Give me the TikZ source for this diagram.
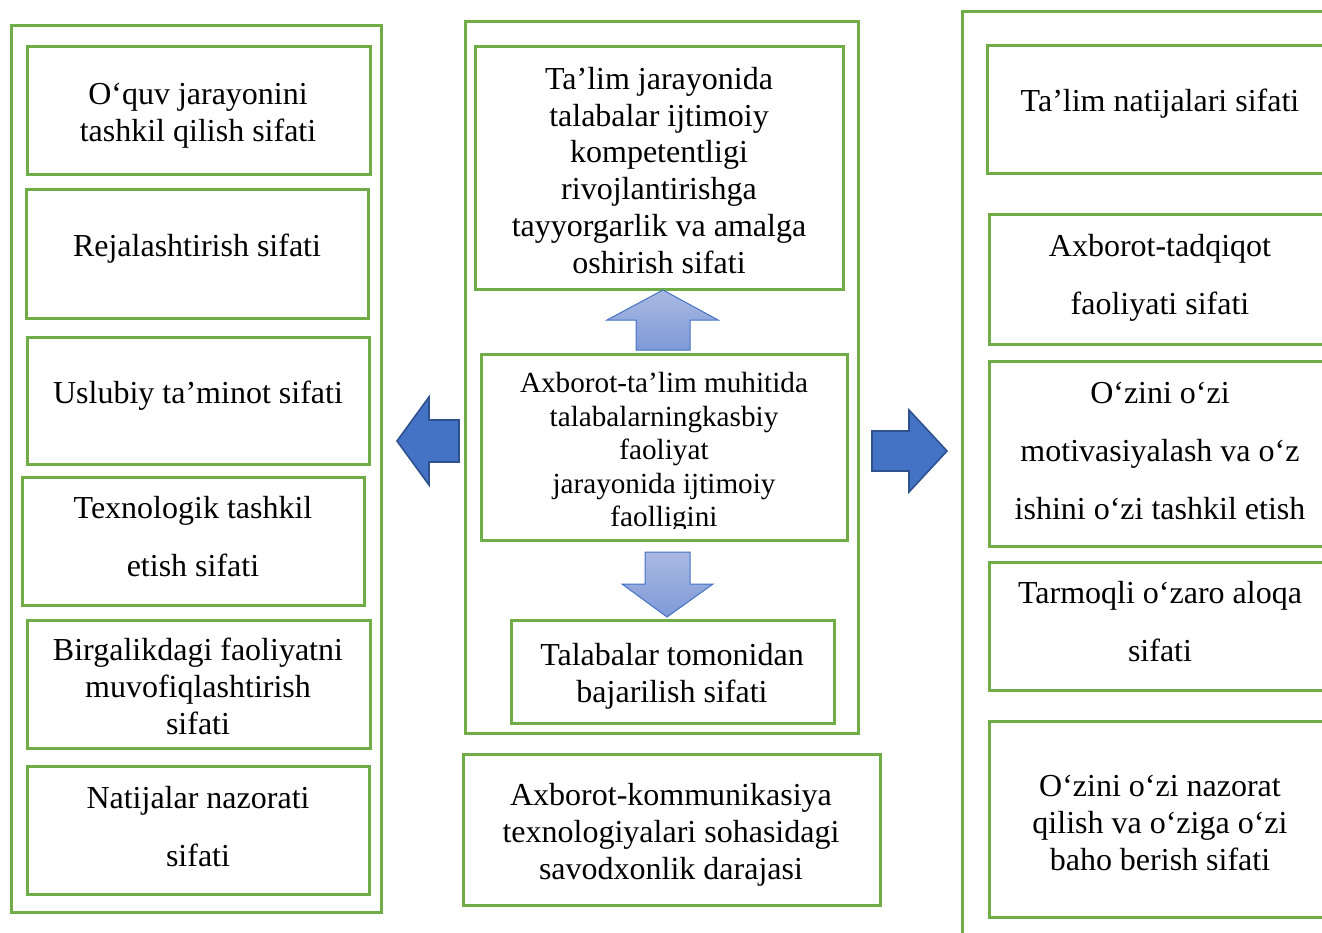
\documentclass[tikz,border=0pt]{standalone}
\usepackage{fontspec}
\setmainfont{Liberation Serif}
\definecolor{boxgreen}{HTML}{70AD47}
\definecolor{arrblue}{HTML}{4472C4}
\definecolor{arrdark}{HTML}{2F528F}
\definecolor{arrtop}{HTML}{AAB9E2}
\definecolor{arrbot}{HTML}{7E9AD8}
\tikzset{
  gbox/.style={draw=boxgreen, line width=3pt},
  txt/.style={font=\fontsize{32}{36.8}\selectfont, align=center, inner sep=0pt},
  txtsmall/.style={font=\fontsize{29.2}{33.6}\selectfont, align=center, inner sep=0pt},
  lightarrow/.style={draw=arrblue, line width=1pt, top color=arrtop, bottom color=arrbot},
  darkarrow/.style={draw=arrdark, line width=1.6pt, fill=arrblue, line join=miter},
}
\begin{document}
\begin{tikzpicture}[x=1pt, y=-1pt]
\clip (0,0) rectangle (1322,933);
\fill[white] (0,0) rectangle (1322,933);

% left column
\draw[gbox] (11,26) rectangle (381,912);
\draw[gbox] (27,47) rectangle (370,175);
\node[txt] (l1) at (198,116) {\strut O‘quv jarayonini\\tashkil qilish sifati\strut};
\draw[gbox] (26,190) rectangle (368,318);
\node[txt] (l2) at (197,249) {\strut Rejalashtirish sifati\strut};
\draw[gbox] (27,337) rectangle (369,464);
\node[txt] (l3) at (198,396) {\strut Uslubiy ta’minot sifati\strut};
\draw[gbox] (22,477) rectangle (364,605);
\node[txt] (l4) at (193,540) {\strut Texnologik tashkil\\[21.2pt]etish sifati\strut};
\draw[gbox] (27,620) rectangle (370,748);
\node[txt] (l5) at (198,690) {\strut Birgalikdagi faoliyatni\\muvofiqlashtirish\\sifati\strut};
\draw[gbox] (27,766) rectangle (369,894);
\node[txt] (l6) at (198,830) {\strut Natijalar nazorati\\[21.2pt]sifati\strut};

% middle column
\draw[gbox] (465,22) rectangle (858,733);
\draw[gbox] (475,47) rectangle (843,290);
\node[txt] (m1) at (659,174) {\strut Ta’lim jarayonida\\talabalar ijtimoiy\\kompetentligi\\rivojlantirishga\\tayyorgarlik va amalga\\oshirish sifati\strut};
\draw[lightarrow] (663,290) -- (718,320) -- (690,320) -- (690,350) -- (636,350) -- (636,320) -- (607,320) -- cycle;
\begin{scope}
\clip (481,354) rectangle (847,528);
\node[txtsmall] (m2) at (664,453) {\strut Axborot-ta’lim muhitida\\talabalarningkasbiy\\faoliyat\\jarayonida ijtimoiy\\faolligini\strut};
\end{scope}
\draw[gbox] (481,354) rectangle (847,540);
\draw[lightarrow] (645,552) -- (690,552) -- (690,584) -- (713,584) -- (667,617) -- (622,584) -- (645,584) -- cycle;
\draw[gbox] (511,620) rectangle (834,723);
\node[txt] (m3) at (672,677) {\strut Talabalar tomonidan\\bajarilish sifati\strut};
\draw[gbox] (463,754) rectangle (880,905);
\node[txt] (m4) at (671,835) {\strut Axborot-kommunikasiya\\texnologiyalari sohasidagi\\savodxonlik darajasi\strut};

% side arrows
\draw[darkarrow] (397,441) -- (429,397) -- (429,420) -- (459,420) -- (459,462) -- (429,462) -- (429,485) -- cycle;
\draw[darkarrow] (872,431) -- (909,431) -- (909,410) -- (947,451) -- (909,492) -- (909,471) -- (872,471) -- cycle;

% right column
\draw[gbox] (962,12) rectangle (1345,960);
\draw[gbox] (987,46) rectangle (1333,174);
\node[txt] (r1) at (1160,104) {\strut Ta’lim natijalari sifati\strut};
\draw[gbox] (989,215) rectangle (1333,344);
\node[txt] (r2) at (1160,278) {\strut Axborot-tadqiqot\\[21.2pt]faoliyati sifati\strut};
\draw[gbox] (989,361) rectangle (1333,546);
\node[txt] (r3) at (1160,454) {\strut O‘zini o‘zi\\[21.2pt]motivasiyalash va o‘z\\[21.2pt]ishini o‘zi tashkil etish\strut};
\draw[gbox] (989,562) rectangle (1333,690);
\node[txt] (r4) at (1160,625) {\strut Tarmoqli o‘zaro aloqa\\[21.2pt]sifati\strut};
\draw[gbox] (989,721) rectangle (1333,917);
\node[txt] (r5) at (1160,826) {\strut O‘zini o‘zi nazorat\\qilish va o‘ziga o‘zi\\baho berish sifati\strut};
\end{tikzpicture}
\end{document}
